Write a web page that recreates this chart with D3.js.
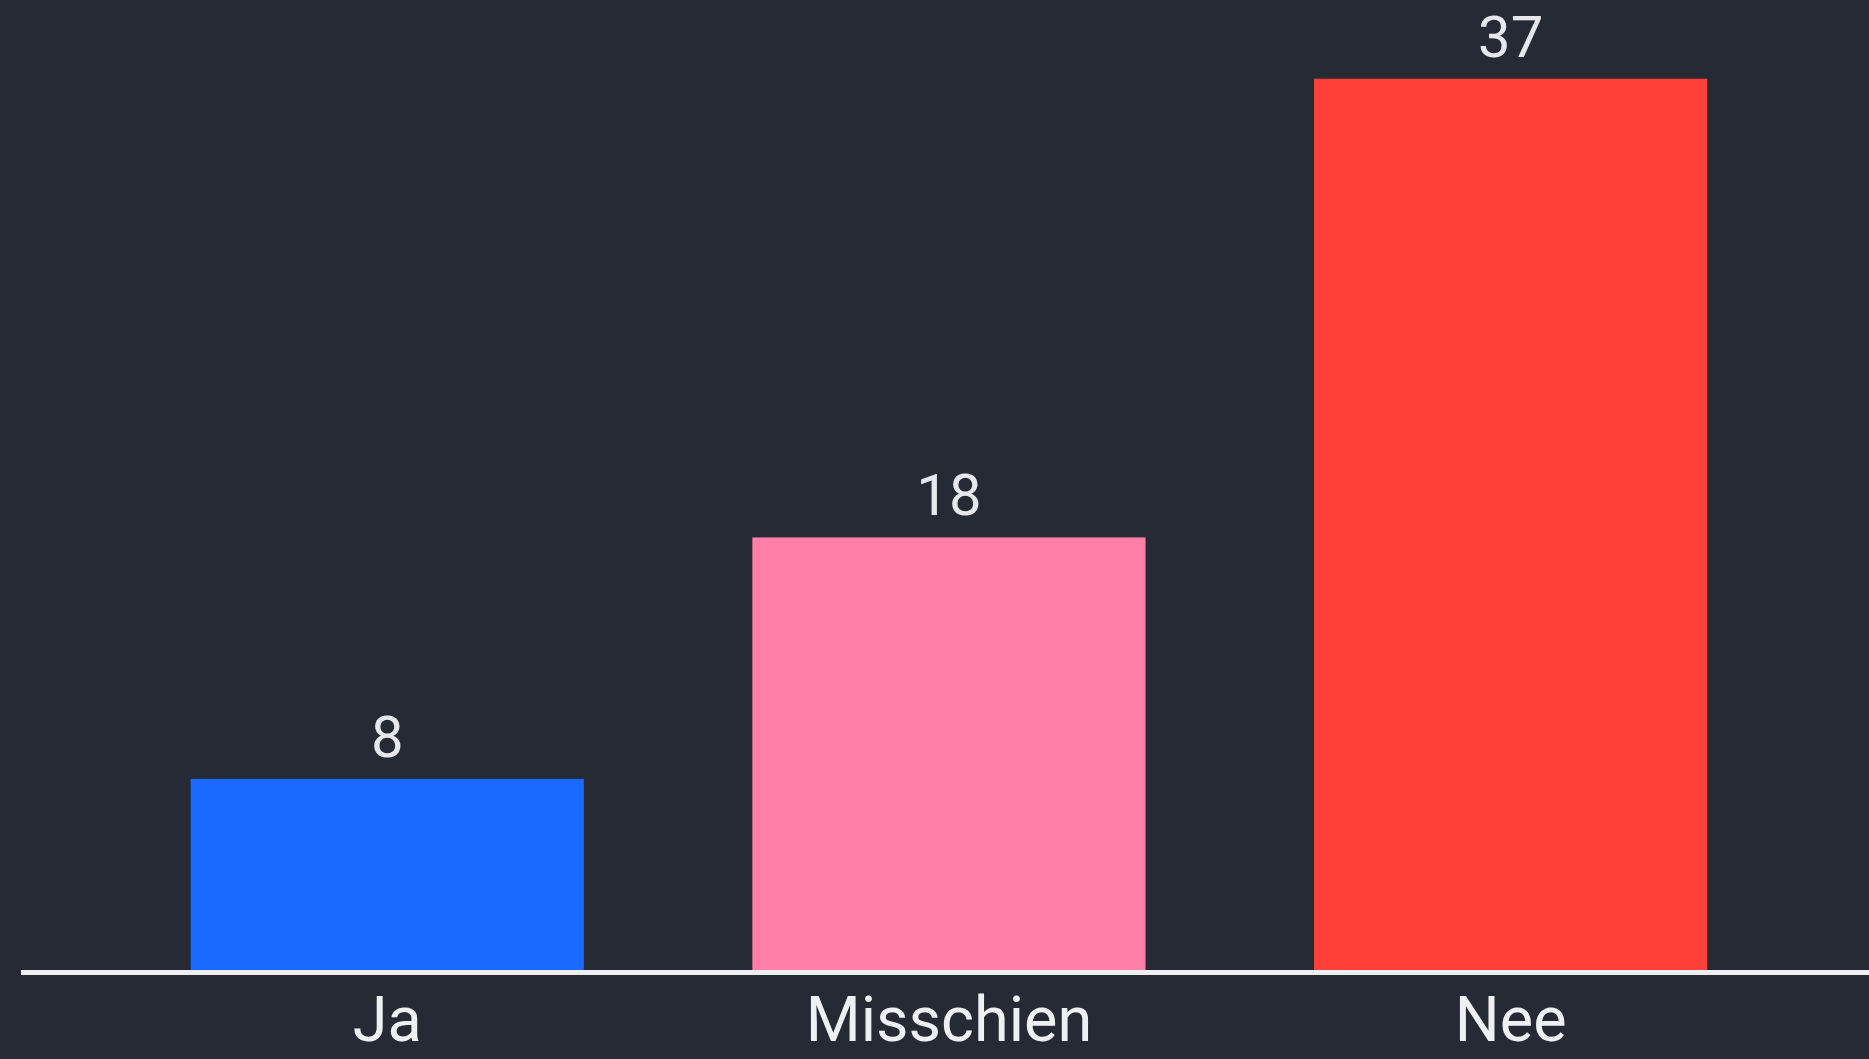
<!DOCTYPE html>
<html>
<head>
<meta charset="utf-8">
<script src="https://cdn.jsdelivr.net/npm/d3@7"></script>
<style>
html,body{margin:0;padding:0;background:#252a34;overflow:hidden;}
svg{display:block;}
</style>
</head>
<body>
<svg id="chart" width="1869" height="1059"></svg>
<script>
const categories = ["Ja", "Misschien", "Nee"];
const values = [8, 18, 37];
const colors = ["#1a6aff", "#ff7fa8", "#ff4039"];

const W = 1869, H = 1059;
const baseY = 972;
const svg = d3.select("#chart");
svg.append("rect").attr("width", W).attr("height", H).attr("fill", "#252a34");

const x = d3.scaleBand().domain(categories).range([106.4, 1791.5]).paddingInner(0.3).paddingOuter(0.15);
const y = d3.scaleLinear().domain([0, 37]).range([baseY, 78.7]);

svg.selectAll("rect.bar").data(values).join("rect")
  .attr("class", "bar")
  .attr("x", (d, i) => x(categories[i]))
  .attr("width", x.bandwidth())
  .attr("y", d => y(d))
  .attr("height", d => baseY - y(d))
  .attr("fill", (d, i) => colors[i]);

svg.selectAll("text.val").data(values).join("text")
  .attr("class", "val")
  .attr("x", (d, i) => x(categories[i]) + x.bandwidth() / 2)
  .attr("y", d => y(d) - 22)
  .attr("text-anchor", "middle")
  .attr("font-family", "Roboto, sans-serif")
  .attr("font-size", 58)
  .attr("fill", "#e6e8ee")
  .text(d => d);

svg.append("line")
  .attr("x1", 21).attr("x2", W)
  .attr("y1", baseY + 0.5).attr("y2", baseY + 0.5)
  .attr("stroke", "#eceef2").attr("stroke-width", 5);

const axis = d3.axisBottom(x).tickSize(0).tickPadding(0);
const g = svg.append("g").attr("transform", `translate(0,${baseY})`).call(axis);
g.select(".domain").remove();
g.selectAll("text")
  .attr("font-family", "Roboto, sans-serif")
  .attr("font-size", 63)
  .attr("fill", "#eef0f4")
  .attr("dy", null)
  .attr("y", 69);
</script>
</body>
</html>
